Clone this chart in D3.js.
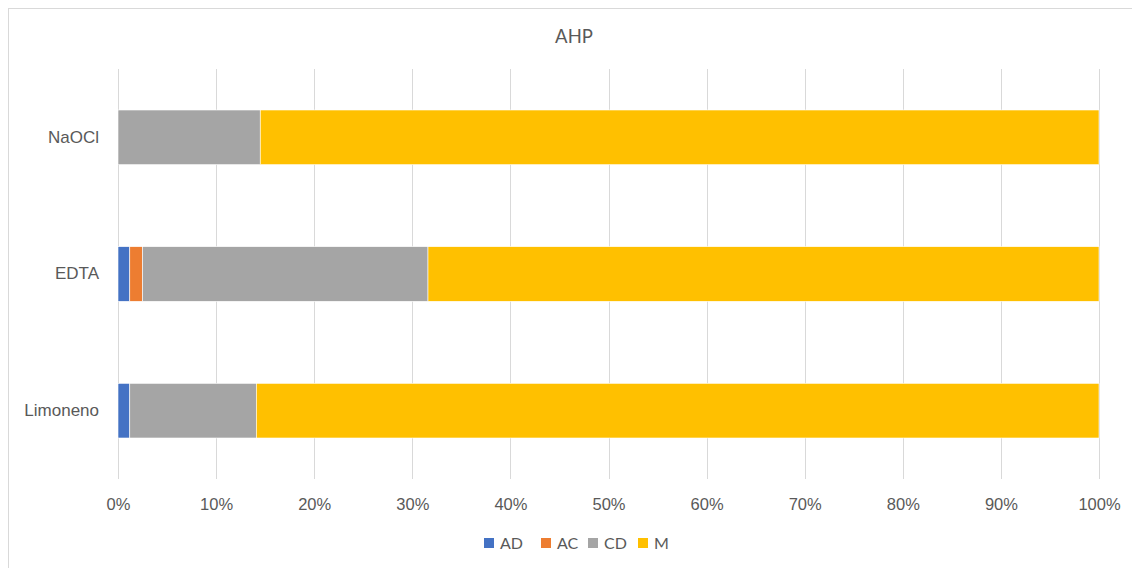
<!DOCTYPE html>
<html lang="es">
<head>
<meta charset="UTF-8">
<title>AHP</title>
<script src="https://d3js.org/d3.v7.min.js"></script>
<style>
  body { margin: 0; background: #fff; font-family: Lato, "Open Sans", sans-serif; }
  .x-axis .tick text { fill: #595959; font-size: 16.5px; }
  .y-axis .tick text { fill: #595959; font-size: 17px; }
</style>
</head>
<body>
<svg id="chart"></svg>
<script>
// categories top to bottom
const categories = ["NaOCl", "EDTA", "Limoneno"];
const seriesNames = ["AD", "AC", "CD", "M"];
const seriesColors = ["#4472C4", "#ED7D31", "#A5A5A5", "#FFC000"];
// shares in percent, per category (same order as categories)
const AD = [0, 1.2, 1.2];
const AC = [0, 1.3, 0];
const CD = [14.5, 29.1, 12.9];
const M  = [85.5, 68.4, 85.9];
const tickValues = [0, 0.1, 0.2, 0.3, 0.4, 0.5, 0.6, 0.7, 0.8, 0.9, 1];

const width = 1132, height = 568;
const margin = {top: 69, right: 33, bottom: 89, left: 118};

const svg = d3.select("#chart").attr("width", width).attr("height", height);

// outer chart frame (runs past the right/bottom edge like the source)
svg.append("rect")
  .attr("x", 8.5).attr("y", 8.5)
  .attr("width", width + 10).attr("height", height + 10)
  .attr("fill", "none").attr("stroke", "#d9d9d9").attr("stroke-width", 1);

const rows = categories.map((c, i) => {
  const vals = {AD: AD[i], AC: AC[i], CD: CD[i], M: M[i]};
  const total = AD[i] + AC[i] + CD[i] + M[i];
  const r = {cat: c};
  seriesNames.forEach(s => r[s] = vals[s] / total);
  return r;
});

const stacked = d3.stack().keys(seriesNames)(rows);

const x = d3.scaleLinear().domain([0, 1]).range([margin.left, width - margin.right]);
const y = d3.scaleBand().domain(categories)
  .range([margin.top, height - margin.bottom]).paddingInner(0.6).paddingOuter(0.3);
const color = d3.scaleOrdinal().domain(seriesNames).range(seriesColors);

// gridlines
svg.append("g").selectAll("line").data(tickValues).join("line")
  .attr("x1", d => Math.round(x(d)) + 0.5).attr("x2", d => Math.round(x(d)) + 0.5)
  .attr("y1", margin.top).attr("y2", height - margin.bottom)
  .attr("stroke", "#d9d9d9").attr("stroke-width", 1);

// bars
svg.append("g").selectAll("g").data(stacked).join("g")
  .attr("fill", d => color(d.key))
  .selectAll("rect").data(d => d).join("rect")
  .attr("x", d => x(d[0]))
  .attr("y", d => y(d.data.cat))
  .attr("width", d => x(d[1]) - x(d[0]))
  .attr("height", y.bandwidth())
  .attr("stroke", "#fff").attr("stroke-width", 0.6);

// x axis labels
const xAxis = d3.axisBottom(x).tickValues(tickValues)
  .tickFormat(d3.format(".0%")).tickSize(0).tickPadding(19);
svg.append("g").attr("class", "x-axis")
  .attr("transform", `translate(0,${height - margin.bottom})`)
  .call(xAxis)
  .call(g => g.select(".domain").remove());

// category labels
const yAxis = d3.axisLeft(y).tickSize(0).tickPadding(19);
svg.append("g").attr("class", "y-axis")
  .attr("transform", `translate(${margin.left},0)`)
  .call(yAxis)
  .call(g => g.select(".domain").remove());

// title
svg.append("text")
  .attr("x", 574).attr("y", 43)
  .attr("text-anchor", "middle")
  .attr("fill", "#595959").attr("font-size", 18.5)
  .text("AHP");

// legend
const legendX = [484, 541, 588, 638];
const legend = svg.append("g").selectAll("g").data(seriesNames).join("g")
  .attr("transform", (d, i) => `translate(${legendX[i]},538)`);
legend.append("rect").attr("width", 10).attr("height", 10).attr("fill", d => color(d));
legend.append("text").attr("x", 16).attr("y", 11)
  .attr("fill", "#595959").attr("font-size", 16).text(d => d);
</script>
</body>
</html>
